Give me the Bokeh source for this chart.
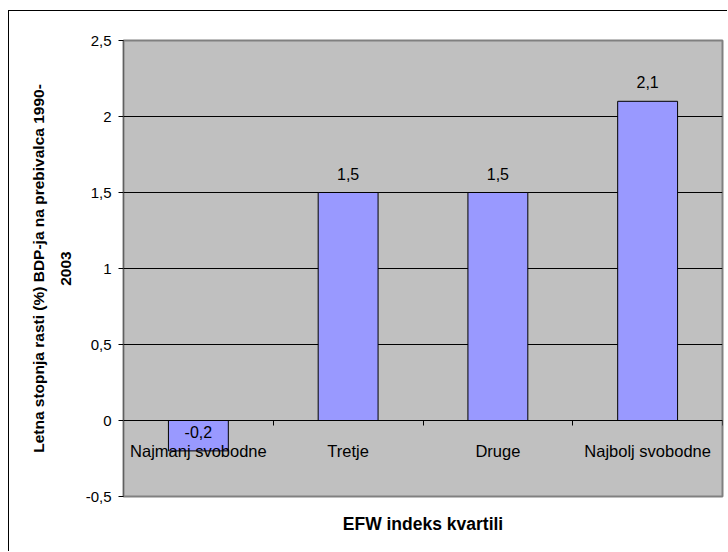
from bokeh.plotting import figure
from bokeh.models import Range1d, FixedTicker, LinearAxis
from bokeh.core.properties import value
from bokeh.embed import file_html
from bokeh.resources import INLINE

categories = ["Najmanj svobodne", "Tretje", "Druge", "Najbolj svobodne"]
values = [-0.2, 1.5, 1.5, 2.1]
value_labels = ["-0,2", "1,5", "1,5", "2,1"]
y_ticks = [-0.5, 0, 0.5, 1, 1.5, 2, 2.5]
y_tick_labels = ["-0,5", "0", "0,5", "1", "1,5", "2", "2,5"]
y_title_lines = ["Letna stopnja rasti (%) BDP-ja na prebivalca 1990-", "2003"]
x_title = "EFW indeks kvartili"

FONT = "Liberation Sans"
xs = [i + 0.5 for i in range(len(categories))]

p = figure(width=719, height=541, output_backend="svg", toolbar_location=None,
           x_range=Range1d(0, len(categories)), y_range=Range1d(y_ticks[0], y_ticks[-1]),
           min_border_left=114, min_border_right=6, min_border_top=29, min_border_bottom=56)
p.styles = {"border-left": "1px solid black", "border-top": "1px solid black",
            "margin-left": "8px", "margin-top": "10px"}
p.background_fill_color = "#C0C0C0"
p.border_fill_color = "white"
p.outline_line_color = "#808080"
p.outline_line_width = 2

# y axis (second title line sits next to the tick labels)
p.yaxis.ticker = FixedTicker(ticks=y_ticks)
p.yaxis.major_label_overrides = {t: l for t, l in zip(y_ticks, y_tick_labels)}
p.yaxis.major_label_text_font = FONT
p.yaxis.major_label_text_font_size = "15px"
p.yaxis.major_label_text_color = "black"
p.yaxis.major_tick_out = 5
p.yaxis.major_tick_in = 0
p.yaxis.minor_tick_out = 0
p.yaxis.minor_tick_in = 0
p.yaxis.major_label_standoff = 7
p.yaxis.axis_line_color = "#606060"
p.yaxis.axis_line_width = 1
p.yaxis.axis_label = y_title_lines[1]
p.yaxis.axis_label_text_font = FONT
p.yaxis.axis_label_text_font_size = "15.5px"
p.yaxis.axis_label_text_font_style = "bold"
p.yaxis.axis_label_text_color = "black"
p.yaxis.axis_label_standoff = 12
p.ygrid.ticker = FixedTicker(ticks=y_ticks)
p.ygrid.grid_line_color = "black"
p.ygrid.grid_line_width = 1
p.xgrid.visible = False

# first title line on a bare axis further left
yt = LinearAxis(ticker=FixedTicker(ticks=[]), axis_line_color=None,
                major_tick_line_color=None, minor_tick_line_color=None,
                major_tick_out=0, minor_tick_out=0,
                major_label_text_font_size="1px", major_label_standoff=0,
                axis_label=y_title_lines[0], axis_label_text_font=FONT,
                axis_label_text_font_size="15.5px", axis_label_text_font_style="bold",
                axis_label_text_color="black", axis_label_standoff=11)
p.add_layout(yt, "left")

# x axis through zero
p.xaxis.fixed_location = 0
p.xaxis.ticker = FixedTicker(ticks=list(range(len(categories) + 1)))
p.xaxis.major_label_text_alpha = 0
p.xaxis.major_label_text_font_size = "1px"
p.xaxis.major_tick_out = 5
p.xaxis.major_tick_in = 0
p.xaxis.minor_tick_out = 0
p.xaxis.minor_tick_in = 0
p.xaxis.axis_line_color = "black"
p.xaxis.major_tick_line_color = "black"

# x title on a bare axis below the plot area
xt = LinearAxis(ticker=FixedTicker(ticks=[]), axis_line_color=None,
                major_tick_line_color=None, minor_tick_line_color=None,
                major_label_text_font_size="1px", major_label_standoff=0,
                axis_label=x_title, axis_label_text_font=FONT,
                axis_label_text_font_size="17.5px", axis_label_text_font_style="bold",
                axis_label_text_color="black", axis_label_standoff=17)
p.add_layout(xt, "below")

p.vbar(x=xs, top=values, bottom=0, width=0.4, fill_color="#9999FF",
       line_color="black", line_width=1)

p.text(x=xs, y=values, text=value_labels, text_align="center", text_baseline="middle",
       y_offset=-19, text_font=value(FONT), text_font_size="16px", text_color="black")

p.text(x=xs, y=[0] * len(xs), text=categories, text_align="center",
       text_baseline="alphabetic", y_offset=30, text_font=value(FONT),
       text_font_size="16.5px", text_color="black")

open("out.html", "w").write(file_html(p, INLINE))
